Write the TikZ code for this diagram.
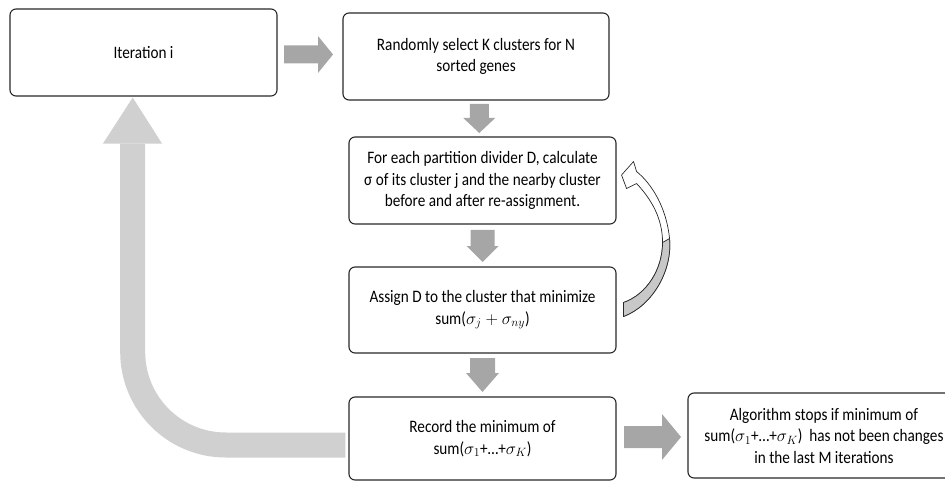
\documentclass[tikz,border=0pt]{standalone}
\usepackage{fontspec}
\setmainfont{Carlito}[FakeStretch=0.87]
\usetikzlibrary{calc}
\definecolor{boxline}{RGB}{40,40,40}
\definecolor{darkarrow}{RGB}{166,166,166}
\definecolor{lightarrow}{RGB}{208,208,208}
\definecolor{curvegray}{RGB}{200,200,200}
% right-pointing block arrow: back x, head base x, tip x, shaft half width, head half width, colour
\newcommand{\RArrow}[6]{\fill[#6] (#1,-#4)--(#2,-#4)--(#2,-#5)--(#3,0)--(#2,#5)--(#2,#4)--(#1,#4)--cycle;}
% down-pointing block arrow: back y, head base y, tip y, shaft half width, head half width, colour
\newcommand{\DArrow}[6]{\fill[#6] (-#4,#1)--(-#4,#2)--(-#5,#2)--(0,#3)--(#5,#2)--(#4,#2)--(#4,#1)--cycle;}
\begin{document}
\begin{tikzpicture}[x=1pt,y=-1pt,
  box/.style={draw=boxline, line width=1.1pt, rounded corners=6pt, fill=white,
    align=center, inner sep=0pt, font=\fontsize{17.5}{21.5}\selectfont}]
\useasboundingbox (0,0) rectangle (945,481);
\clip (0,0) rectangle (945,481);

% boxes
\node[box, minimum width=267pt, minimum height=87pt] (iter) at (143.5,52.5) {Iteration i};
\node[box, minimum width=266pt, minimum height=87pt] (rand) at (476,56.5) {Randomly select K clusters for N\\sorted genes};
\node[box, minimum width=267pt, minimum height=87pt] (each) at (482.5,180.5) {For each partition divider D, calculate\\σ of its cluster j and the nearby cluster\\before and after re-assignment.};
\node[box, minimum width=267pt, minimum height=86pt] (assign) at (482.5,310) {Assign D to the cluster that minimize\\sum($\sigma_j+\sigma_{ny}$)};
\node[box, minimum width=267pt, minimum height=83pt] (rec) at (482.5,438.5) {Record the minimum of\\sum($\sigma_1$+…+$\sigma_K$)};
\node[box, minimum width=272pt, minimum height=85pt] (alg) at (824,435.5) {Algorithm stops if minimum of\\sum($\sigma_1$+…+$\sigma_K$)\ \ has not been changes\\in the last M iterations};

% large return arrow
\draw[lightarrow, line width=25pt, rounded corners=93pt] ($(rec.west)+(-3,6.5)$) -| ($(iter.south)+(-10.8,47)$);
\fill[lightarrow] ($(iter.south)+(-40.5,47)$) -- ($(iter.south)+(-10.8,1)$) -- ($(iter.south)+(18.5,47)$) -- cycle;

% block arrows
\begin{scope}[shift={($(iter.east)!0.5!(rand.west)$)}]
  \RArrow{-26}{8}{23}{9}{18.5}{darkarrow}
\end{scope}
\begin{scope}[shift={($(rand.south)!0.5!(each.north)$)}]
  \DArrow{-14.5}{-0.5}{14.5}{9.5}{16}{darkarrow}
\end{scope}
\begin{scope}[shift={($(each.south)!0.5!(assign.north)$)}]
  \DArrow{-15.5}{0.5}{16.5}{12}{16}{darkarrow}
\end{scope}
\begin{scope}[shift={($(assign.south)!0.5!(rec.north)$)}]
  \DArrow{-17}{-2}{17}{12.5}{16.5}{darkarrow}
\end{scope}
\begin{scope}[shift={($(rec.east)!0.5!(alg.west)$)}]
  \RArrow{-28}{10}{29}{11}{23}{darkarrow}
\end{scope}

% curved arrow from assign back to each
\begin{scope}[shift={(each.east)}]
  \filldraw[fill=white, draw=boxline, line width=0.7pt, line join=round]
    (7,136) .. controls (36,125) and (56,90) .. (53,58)
    .. controls (50,28) and (36,4) .. (20,-9)
    -- (17,-19) -- (5,-5.5) -- (10,8) -- (20,3)
    .. controls (35,19) and (46,38) .. (46,62)
    .. controls (46,89) and (30,114) .. (7,122) -- cycle;
  \filldraw[fill=curvegray, draw=boxline, line width=0.7pt, line join=round]
    (7,136) .. controls (36,125) and (56,90) .. (53,58)
    -- (46,62) .. controls (46,89) and (30,114) .. (7,122) -- cycle;
\end{scope}
\end{tikzpicture}
\end{document}
